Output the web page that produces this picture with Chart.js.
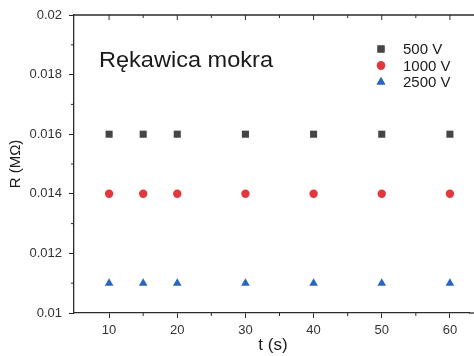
<!DOCTYPE html>
<html>
<head>
<meta charset="utf-8">
<script src="https://cdn.jsdelivr.net/npm/chart.js@4/dist/chart.umd.min.js"></script>
<style>
html,body{margin:0;padding:0;background:#fff;}
canvas{display:block;}
</style>
</head>
<body>
<canvas id="c" width="474" height="356"></canvas>
<script>
const times = [10, 15, 20, 30, 40, 50, 60];
const r500 = [0.016, 0.016, 0.016, 0.016, 0.016, 0.016, 0.016];
const r1000 = [0.014, 0.014, 0.014, 0.014, 0.014, 0.014, 0.014];
const r2500 = [0.011, 0.011, 0.011, 0.011, 0.011, 0.011, 0.011];
const seriesLabels = ['500 V', '1000 V', '2500 V'];
const xTicks = [10, 20, 30, 40, 50, 60];
const xMinorTicks = [15, 25, 35, 45, 55];
const yTicks = [0.01, 0.012, 0.014, 0.016, 0.018, 0.02];
const yTickLabels = ['0.01', '0.012', '0.014', '0.016', '0.018', '0.02'];
const yMinorTicks = [0.011, 0.013, 0.015, 0.017, 0.019];
const chartTitle = 'Rękawica mokra';
const xTitle = 't (s)';
const yTitle = 'R (MΩ)';

const FONT = '"Liberation Sans", Arial, sans-serif';
const AX = '#2b2b2b';

function pts(ys){ return times.map((t,i)=>({x:t, y:ys[i]})); }

const styles = [
  {pointStyle:'rect', radius:5, color:'#454545'},
  {pointStyle:'circle', radius:4.2, color:'#e2383d'},
  {pointStyle:'triangle', radius:5, color:'#2a66c0'}
];
const allData = [r500, r1000, r2500];

const decor = {
  id:'decor',
  afterDraw(chart){
    const ctx = chart.ctx, a = chart.chartArea;
    const xs = chart.scales.x, ys = chart.scales.y;
    ctx.save();
    ctx.strokeStyle = AX; ctx.lineWidth = 1.3;
    ctx.beginPath(); ctx.moveTo(a.left, a.top); ctx.lineTo(474, a.top); ctx.stroke();
    ctx.beginPath(); ctx.moveTo(a.right, a.bottom); ctx.lineTo(474, a.bottom); ctx.stroke();
    ctx.lineWidth = 1;
    xTicks.forEach(v=>{const p=xs.getPixelForValue(v); ctx.beginPath(); ctx.moveTo(p,a.top); ctx.lineTo(p,a.top+5); ctx.stroke();});
    xMinorTicks.forEach(v=>{const p=xs.getPixelForValue(v); ctx.beginPath(); ctx.moveTo(p,a.top); ctx.lineTo(p,a.top+3); ctx.stroke();});
    xMinorTicks.forEach(v=>{const p=xs.getPixelForValue(v); ctx.beginPath(); ctx.moveTo(p,a.bottom); ctx.lineTo(p,a.bottom+3); ctx.stroke();});
    yMinorTicks.forEach(v=>{const p=ys.getPixelForValue(v); ctx.beginPath(); ctx.moveTo(a.left,p); ctx.lineTo(a.left-3,p); ctx.stroke();});
    ctx.fillStyle = '#1a1a1a';
    ctx.font = '22px ' + FONT;
    ctx.textBaseline = 'middle'; ctx.textAlign = 'left';
    ctx.save(); ctx.translate(99, 61); ctx.scale(1.07,1); ctx.fillText(chartTitle, 0, 0); ctx.restore();
    ctx.font = '17px ' + FONT; ctx.textAlign='center';
    ctx.fillText(xTitle, 273, 345);
    ctx.save(); ctx.translate(16, (a.top+a.bottom)/2); ctx.rotate(-Math.PI/2);
    ctx.font = '15px ' + FONT; ctx.fillText(yTitle, 0, 0); ctx.restore();
    ctx.font = '15px ' + FONT; ctx.textAlign='left';
    const ly = [49, 65.5, 82];
    chart.data.datasets.forEach((ds,i)=>{
      ctx.fillStyle = ds.backgroundColor; ctx.strokeStyle = ds.backgroundColor;
      Chart.helpers.drawPoint(ctx, {pointStyle: ds.pointStyle, radius: ds.pointRadius, rotation:0, borderWidth:0}, 381, ly[i]);
      ctx.fill();
      ctx.fillStyle = '#1a1a1a';
      ctx.fillText(ds.label, 403, ly[i]+1);
    });
    ctx.restore();
  }
};

new Chart(document.getElementById('c'), {
  type:'scatter',
  data:{
    datasets: allData.map((d,i)=>({
      label: seriesLabels[i],
      data: pts(d),
      pointStyle: styles[i].pointStyle,
      pointRadius: styles[i].radius,
      pointHoverRadius: styles[i].radius,
      backgroundColor: styles[i].color,
      borderColor: styles[i].color,
      borderWidth: 0,
      showLine:false
    }))
  },
  options:{
    responsive:false,
    animation:false,
    devicePixelRatio:1,
    layout:{padding:{top:15, right:0, left:0, bottom:0}},
    plugins:{legend:{display:false}, tooltip:{enabled:false}},
    scales:{
      x:{
        type:'linear', min:4.85, max:62.8,
        afterBuildTicks(s){ s.ticks = xTicks.map(v=>({value:v})); },
        afterFit(s){ s.height = 43; },
        grid:{drawOnChartArea:false, drawTicks:true, tickLength:5, color:AX, lineWidth:1},
        border:{display:true, color:AX, width:1.3},
        ticks:{padding:5, color:'#333', font:{family:FONT, size:13}, maxRotation:0, autoSkip:false}
      },
      y:{
        type:'linear', min:0.01, max:0.02,
        afterBuildTicks(s){ s.ticks = yTicks.map(v=>({value:v})); },
        afterFit(s){ s.width = 74; },
        grid:{drawOnChartArea:false, drawTicks:true, tickLength:5, color:AX, lineWidth:1},
        border:{display:true, color:AX, width:1.3},
        ticks:{padding:7, color:'#333', font:{family:FONT, size:13},
          callback(v){ const i = yTicks.findIndex(t=>Math.abs(t-v)<1e-9); return i>=0 ? yTickLabels[i] : ''; }}
      }
    }
  },
  plugins:[decor]
});
</script>
</body>
</html>
